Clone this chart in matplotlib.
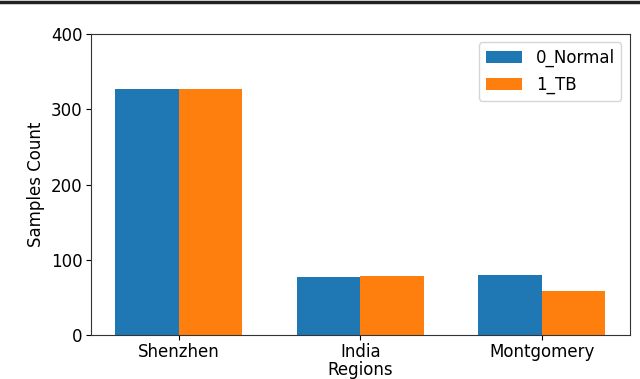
import matplotlib
matplotlib.use('Agg')
from matplotlib import pyplot as plt
from matplotlib.lines import Line2D
import numpy as np

# data
regions = ['Shenzhen', 'India', 'Montgomery']
normal = [327, 77, 80]
tb = [327, 78, 58]

fig = plt.figure(figsize=(6.4, 3.79), dpi=100)
ax = fig.add_axes([0.142, 0.116, 0.842, 0.794])

x = np.arange(len(regions))
w = 0.35
ax.bar(x - w / 2, normal, w, label='0_Normal', color='#1f77b4')
ax.bar(x + w / 2, tb, w, label='1_TB', color='#ff7f0e')

ax.set_xticks(x)
ax.set_xticklabels(regions, fontsize=12)
ax.set_ylim(0, 400)
ax.set_yticks([0, 100, 200, 300, 400])
ax.tick_params(axis='both', labelsize=12, pad=2.5)
ax.set_xlabel('Regions', fontsize=12, labelpad=0)
ax.set_ylabel('Samples Count', fontsize=12)
for s in ax.spines.values():
    s.set_color('#333333')
ax.legend(loc='upper right', fontsize=12, handlelength=2.2)

# dark rule along the top edge of the cropped figure
fig.add_artist(Line2D([0, 1], [0.995, 0.995], transform=fig.transFigure,
                      color='#222222', linewidth=2.5))

fig.savefig('out.png', dpi=100)
